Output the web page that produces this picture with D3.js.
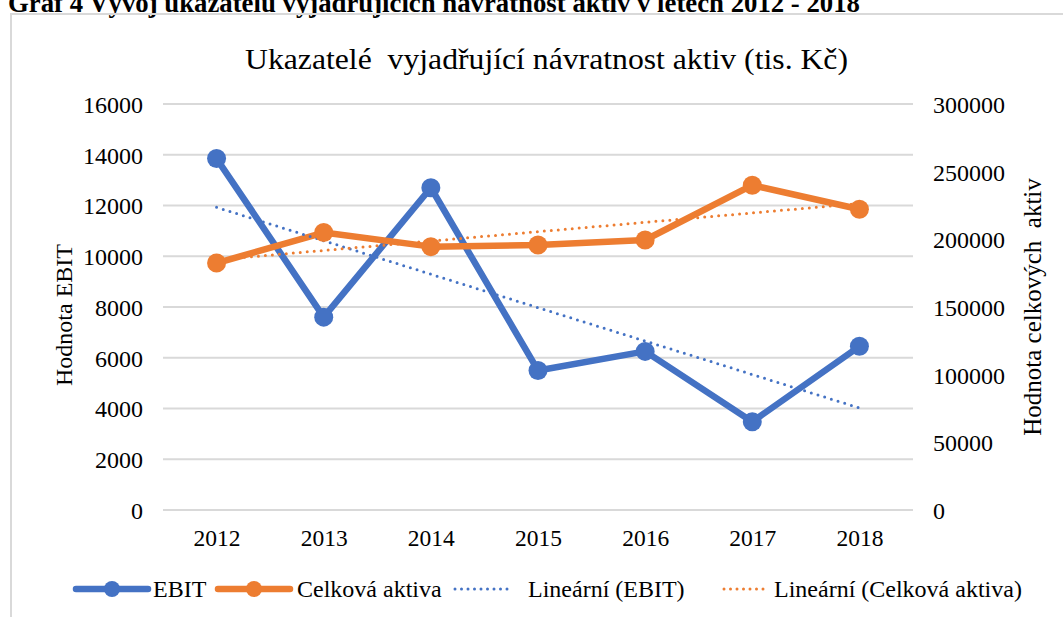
<!DOCTYPE html>
<html>
<head>
<meta charset="utf-8">
<script src="https://cdn.jsdelivr.net/npm/d3@7/dist/d3.min.js"></script>
<style>
  html, body { margin: 0; padding: 0; background: #fff; }
  svg { display: block; }
  svg text { font-family: "Liberation Serif", "Times New Roman", serif; fill: #000; }
</style>
</head>
<body>
<svg id="chart" width="1063" height="617"></svg>
<script>
// ---- data ----
const years = ["2012", "2013", "2014", "2015", "2016", "2017", "2018"];
const ebit = [13850, 7600, 12700, 5500, 6250, 3480, 6450];
const aktiva = [182500, 205000, 194600, 195800, 199500, 240000, 222200];
const leftTicks = [0, 2000, 4000, 6000, 8000, 10000, 12000, 14000, 16000];
const rightTicks = [0, 50000, 100000, 150000, 200000, 250000, 300000];
const seriesNames = ["EBIT", "Celková aktiva", "Lineární (EBIT)", "Lineární (Celková aktiva)"];

const blue = "#4472C4", orange = "#ED7D31";
const FONT = '"Liberation Serif", "Times New Roman", serif';

// linear trend (least squares, like Excel's trendline)
function trend(vals) {
  const xs = vals.map((_, i) => i + 1);
  const mx = d3.mean(xs), my = d3.mean(vals);
  let sxy = 0, sxx = 0;
  xs.forEach((x, i) => { sxy += (x - mx) * (vals[i] - my); sxx += (x - mx) * (x - mx); });
  const b = sxy / sxx, a = my - b * mx;
  return xs.map(x => a + b * x);
}

const svg = d3.select("#chart");
const plot = { left: 163, right: 913, top: 104, bottom: 510 };

// caption (clipped at top in reference)
svg.append("text")
  .attr("x", 8).attr("y", 12)
  .attr("font-size", 27).attr("font-weight", "bold")
  .attr("textLength", 852).attr("lengthAdjust", "spacingAndGlyphs")
  .style("font-family", FONT)
  .text("Graf 4 Vývoj ukazatelů vyjadřujících návratnost aktiv v letech 2012 - 2018");

// chart frame
svg.append("rect")
  .attr("x", 11).attr("y", 14).attr("width", 1100).attr("height", 700)
  .attr("fill", "none").attr("stroke", "#d9d9d9").attr("stroke-width", 2);

// title
svg.append("text")
  .attr("x", 245).attr("y", 69)
  .attr("font-size", 29)
  .attr("textLength", 603).attr("lengthAdjust", "spacingAndGlyphs")
  .attr("xml:space", "preserve")
  .style("font-family", FONT)
  .text("Ukazatelé  vyjadřující návratnost aktiv (tis. Kč)");

const x = d3.scalePoint().domain(years).range([plot.left, plot.right]).padding(0.5);
const yL = d3.scaleLinear().domain([0, 16000]).range([plot.bottom, plot.top]);
const yR = d3.scaleLinear().domain([0, 300000]).range([plot.bottom, plot.top]);

// gridlines
svg.append("g").selectAll("line").data(leftTicks).join("line")
  .attr("x1", plot.left).attr("x2", plot.right)
  .attr("y1", d => yL(d)).attr("y2", d => yL(d))
  .attr("stroke", "#d9d9d9").attr("stroke-width", 2);

// left axis
const gL = svg.append("g").attr("transform", `translate(${plot.left},0)`)
  .call(d3.axisLeft(yL).tickValues(leftTicks).tickSize(0).tickPadding(20).tickFormat(d3.format("d")));
gL.select(".domain").remove();
gL.selectAll("text").attr("font-size", 24).style("font-family", FONT).attr("dy", "0.35em");

// right axis
const gR = svg.append("g").attr("transform", `translate(${plot.right},0)`)
  .call(d3.axisRight(yR).tickValues(rightTicks).tickSize(0).tickPadding(20).tickFormat(d3.format("d")));
gR.select(".domain").remove();
gR.selectAll("text").attr("font-size", 24).style("font-family", FONT).attr("dy", "0.35em");

// bottom axis
const gB = svg.append("g").attr("transform", `translate(0,${plot.bottom})`)
  .call(d3.axisBottom(x).tickSize(0).tickPadding(19));
gB.select(".domain").remove();
gB.selectAll("text").attr("font-size", 23.5).style("font-family", FONT);

// axis titles
svg.append("text")
  .attr("transform", "translate(72,315) rotate(-90)")
  .attr("text-anchor", "middle").attr("font-size", 24)
  .style("font-family", FONT)
  .text("Hodnota EBIT");
svg.append("text")
  .attr("transform", "translate(1041,307) rotate(-90)")
  .attr("text-anchor", "middle").attr("font-size", 25)
  .attr("xml:space", "preserve")
  .style("font-family", FONT)
  .text("Hodnota celkových  aktiv");

// trendlines
const ebitTrend = trend(ebit);
const aktTrend = trend(aktiva);
const lineL = d3.line().x((d, i) => x(years[i])).y(d => yL(d));
const lineR = d3.line().x((d, i) => x(years[i])).y(d => yR(d));

// series lines
svg.append("path").datum(ebit).attr("d", lineL)
  .attr("fill", "none").attr("stroke", blue).attr("stroke-width", 6.5).attr("stroke-linejoin", "round");
svg.append("path").datum(aktiva).attr("d", lineR)
  .attr("fill", "none").attr("stroke", orange).attr("stroke-width", 6.5).attr("stroke-linejoin", "round");

svg.append("path").datum(ebitTrend).attr("d", lineL)
  .attr("fill", "none").attr("stroke", blue).attr("stroke-width", 3)
  .attr("stroke-dasharray", "0 7").attr("stroke-linecap", "round");
svg.append("path").datum(aktTrend).attr("d", lineR)
  .attr("fill", "none").attr("stroke", orange).attr("stroke-width", 3)
  .attr("stroke-dasharray", "0 7").attr("stroke-linecap", "round");

// markers
svg.append("g").selectAll("circle").data(ebit).join("circle")
  .attr("cx", (d, i) => x(years[i])).attr("cy", d => yL(d)).attr("r", 9.5).attr("fill", blue);
svg.append("g").selectAll("circle").data(aktiva).join("circle")
  .attr("cx", (d, i) => x(years[i])).attr("cy", d => yR(d)).attr("r", 9.5).attr("fill", orange);

// legend
const legY = 589;
const legend = [
  { name: seriesNames[0], color: blue, x0: 76, x1: 148, tx: 153, w: 52, marker: true },
  { name: seriesNames[1], color: orange, x0: 218, x1: 290, tx: 297, w: 143, marker: true },
  { name: seriesNames[2], color: blue, x0: 455, x1: 512, tx: 528, w: 157, marker: false },
  { name: seriesNames[3], color: orange, x0: 724, x1: 764, tx: 774, w: 249, marker: false }
];
const lg = svg.append("g");
legend.forEach(l => {
  if (l.marker) {
    lg.append("line").attr("x1", l.x0).attr("x2", l.x1).attr("y1", legY).attr("y2", legY)
      .attr("stroke", l.color).attr("stroke-width", 6.5).attr("stroke-linecap", "round");
    lg.append("circle").attr("cx", (l.x0 + l.x1) / 2).attr("cy", legY).attr("r", 8).attr("fill", l.color);
  } else {
    lg.append("line").attr("x1", l.x0).attr("x2", l.x1).attr("y1", legY).attr("y2", legY)
      .attr("stroke", l.color).attr("stroke-width", 3)
      .attr("stroke-dasharray", "0 6.5").attr("stroke-linecap", "round");
  }
  lg.append("text").attr("x", l.tx).attr("y", legY + 8).attr("font-size", 24)
    .style("font-family", FONT).text(l.name);
});
</script>
</body>
</html>
